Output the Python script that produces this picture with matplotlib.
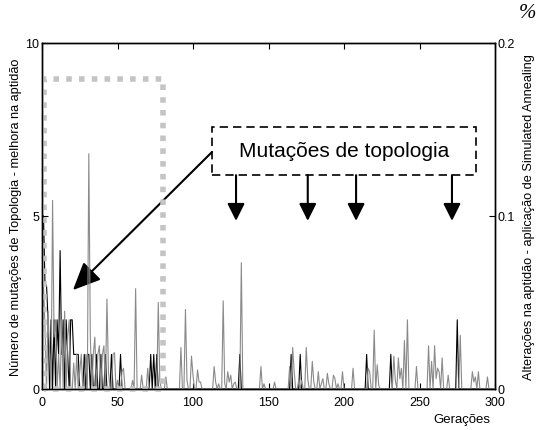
import matplotlib
matplotlib.use("Agg")
import matplotlib.pyplot as plt
import numpy as np
from matplotlib.patches import FancyArrowPatch, Rectangle
from matplotlib.lines import Line2D

plt.rcParams["font.family"] = ["Liberation Sans", "DejaVu Sans"]

n_gen = 300
generations = np.arange(n_gen)

# mutation counts (left axis), generations with non-zero values
mut_gen = [0, 1, 2, 3, 4, 6, 8, 10, 11, 12, 13, 14, 16, 17, 19, 20, 21, 22, 23,
           24, 28, 30, 31, 33, 36, 39, 42, 46, 52, 72, 74, 76, 131, 165, 171,
           215, 231, 275]
mut_val = [5, 5, 3, 3, 2, 2, 2, 2, 1, 4, 1, 2, 2, 1, 2, 2, 1, 1, 1,
           1, 1, 1, 1, 1, 1, 1, 1, 1, 1, 1, 1, 1, 1, 1, 1,
           1, 1, 2]

# fitness changes (right axis), generations with non-zero values
fit_gen = [1, 2, 4, 5, 7, 8, 9, 11, 13, 15, 17, 18, 21, 23, 25, 26, 29, 31, 32,
           34, 35, 37, 38, 40, 41, 43, 44, 47, 48, 50, 53, 54, 60, 62, 66, 70,
           77, 78, 82, 92, 95, 96, 99, 100, 103, 104, 105, 114, 115, 117, 120,
           121, 123, 124, 125, 127, 128, 132, 145, 147, 154, 164, 166, 167,
           170, 172, 175, 176, 179, 180, 183, 185, 186, 189, 190, 193, 194,
           196, 199, 206, 216, 217, 220, 222, 223, 233, 234, 236, 237, 238,
           240, 242, 248, 256, 258, 260, 261, 262, 263, 265, 269, 277, 285,
           286, 287, 289, 295]
fit_val = [0.06, 0.035, 0.045, 0.02, 0.109, 0.03, 0.04, 0.02, 0.04, 0.045,
           0.03, 0.04, 0.015, 0.02, 0.01, 0.02, 0.02, 0.136, 0.03,
           0.02, 0.03, 0.02, 0.025, 0.02, 0.025, 0.052, 0.01, 0.02, 0.021,
           0.005, 0.01, 0.012, 0.005, 0.058, 0.008, 0.012,
           0.050, 0.005, 0.007, 0.024, 0.046, 0.005, 0.019, 0.008, 0.011,
           0.004, 0.004, 0.013, 0.004, 0.003, 0.051,
           0.003, 0.010, 0.004, 0.008, 0.003, 0.004, 0.073, 0.013, 0.003,
           0.004, 0.013, 0.024, 0.010,
           0.005, 0.005, 0.024, 0.006, 0.016, 0.004, 0.010, 0.003, 0.006,
           0.009, 0.003, 0.008, 0.006,
           0.003, 0.010, 0.012, 0.012, 0.010, 0.034, 0.014, 0.002, 0.019,
           0.005, 0.018, 0.006, 0.012,
           0.028, 0.040, 0.013, 0.025, 0.016, 0.025, 0.006, 0.012, 0.010,
           0.018, 0.008, 0.031, 0.010,
           0.004, 0.007, 0.010, 0.007]

mutations = np.zeros(n_gen)
mutations[mut_gen] = mut_val
fitness = np.zeros(n_gen)
fitness[fit_gen] = fit_val

fig = plt.figure(figsize=(5.39, 4.31), dpi=100)
ax = fig.add_axes([42 / 539, 1 - 390 / 431, 453 / 539, 346 / 431])
ax2 = ax.twinx()

ax.plot(generations, mutations, color="black", lw=0.8)
ax2.plot(generations, fitness, color="#8a8a8a", lw=0.8)

ax.set_xlim(0, 300)
ax.set_ylim(0, 10)
ax2.set_ylim(0, 0.2)
ax.set_xticks([0, 50, 100, 150, 200, 250, 300])
ax.set_yticks([0, 5, 10])
ax2.set_yticks([0, 0.1, 0.2])
ax2.set_yticklabels(["0", "0.1", "0.2"])
for a in (ax, ax2):
    a.tick_params(direction="in", length=4, width=0.8, labelsize=9,
                  pad=2, top=True)
    for s in a.spines.values():
        s.set_linewidth(1.0)
ax.tick_params(axis="x", pad=5)

ax.set_ylabel("Número de mutações de Topologia - melhora na aptidão",
              fontsize=9.2, labelpad=2)
ax2.set_ylabel("Alterações na aptidão - aplicação de Simulated Annealing",
               fontsize=9.2, labelpad=6)
fig.text(462 / 539, 1 - 420 / 431, "Gerações", fontsize=9.5,
         ha="center", va="center")
fig.text(519 / 539, 1 - 14 / 431, "%", fontsize=15, style="italic",
         family="Liberation Serif", ha="left", va="center")

# overlays drawn in left-axis data units, on top of both series
tr = ax.transData
ax2.add_line(Line2D([1.5, 1.5, 80, 80, 1.5], [0, 8.95, 8.95, 0, 0],
                    transform=tr, color="#c4c4c4", lw=4.0, ls=(0, (1, 1.3)),
                    dash_capstyle="butt", clip_on=False))

ax2.add_patch(Rectangle((112.6, 6.18), 174.8, 1.39, transform=tr,
                        fill=True, facecolor="white", edgecolor="black",
                        lw=1.2, ls=(0, (5, 3)), clip_on=False))
ax2.text(200, 6.88, "Mutações de topologia", transform=tr, fontsize=15,
         ha="center", va="center")

ax2.add_patch(FancyArrowPatch((112.6, 6.85), (20.5, 2.86), transform=tr,
                              arrowstyle="-|>,head_length=1.0,head_width=0.45",
                              mutation_scale=17, color="black", lw=1.5,
                              shrinkA=0, shrinkB=0))
for gx in [128.5, 176, 208, 271.5]:
    ax2.add_patch(FancyArrowPatch((gx, 6.18), (gx, 4.86), transform=tr,
                                  arrowstyle="-|>,head_length=1.0,head_width=0.5",
                                  mutation_scale=10.5, color="black", lw=1.5,
                                  shrinkA=0, shrinkB=0))

fig.savefig("out.png", dpi=100)
